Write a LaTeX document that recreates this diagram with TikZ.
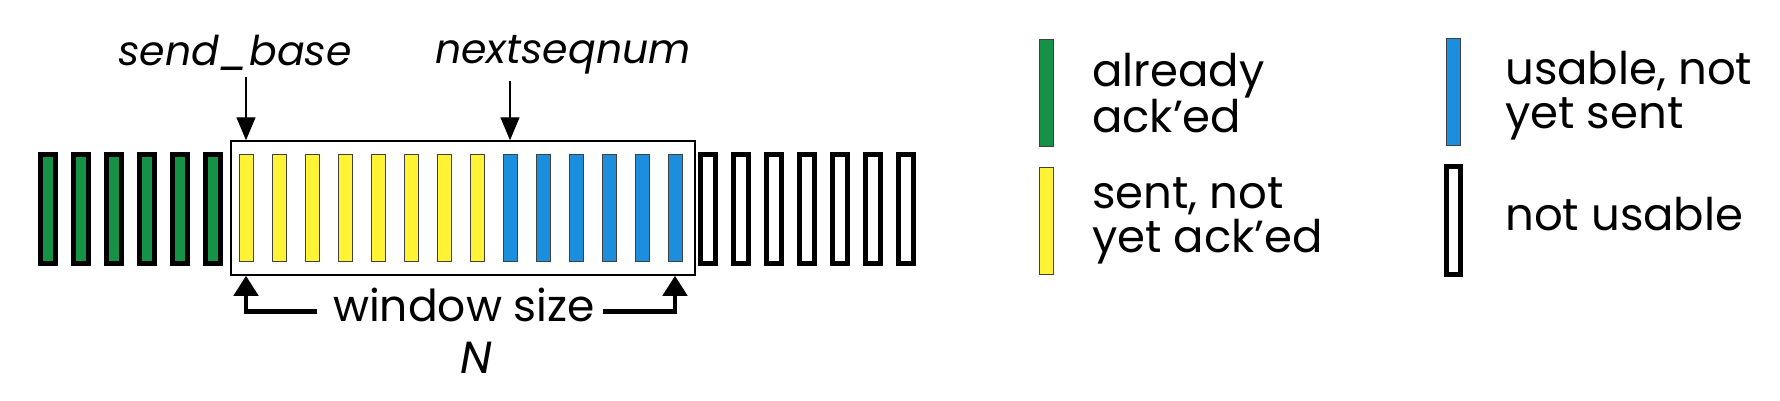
\documentclass[tikz,border=0pt]{standalone}
\usepackage{fontspec}
\setmainfont{Poppins}
\usepackage{tikz}
\usetikzlibrary{positioning, arrows.meta}
\definecolor{ackGreen}{RGB}{22,146,70}
\definecolor{sentYellow}{RGB}{255,243,51}
\definecolor{freeBlue}{RGB}{27,143,221}

\begin{document}
\begin{tikzpicture}[x=1pt, y=-1pt,
  acked/.style={draw, fill=ackGreen, line width=5pt, inner sep=0pt,
                minimum width=14.5pt, minimum height=109pt},
  sent/.style={draw=black!75, fill=sentYellow, line width=0.8pt, inner sep=0pt,
               minimum width=14pt, minimum height=107pt},
  usable/.style={sent, fill=freeBlue},
  unusable/.style={acked, fill=white},
  keybar/.style={sent, minimum width=14pt, minimum height=107pt},
  ptr/.style={-{Triangle[length=23pt, width=19pt]}, line width=1.2pt, shorten <=7pt},
  sizearrow/.style={-{Triangle[length=20pt, width=24pt]}, line width=4.5pt},
  lbl/.style={font=\fontsize{41}{49}\selectfont\itshape, inner sep=0pt, anchor=base},
  legtext/.style={font=\fontsize{45}{44}\selectfont, align=left, anchor=base west, inner sep=0pt},
]
  \useasboundingbox (0,0) rectangle (1780,400);

  \foreach \i in {0,...,5}   \node[acked]    (b\i) at (48+33*\i,209) {};
  \foreach \i in {6,...,13}  \node[sent]     (b\i) at (48+33*\i,208) {};
  \foreach \i in {14,...,19} \node[usable]   (b\i) at (48+33*\i,208) {};
  \foreach \i in {20,...,26} \node[unusable] (b\i) at (48+33*\i,209) {};

  \node[draw, line width=1.5pt, inner sep=0pt, minimum width=464pt,
        minimum height=134pt] (win) at (463,208) {};

  \node[lbl] (sb) at (235,65) {send\_base};
  \node[lbl] (ns) at (563,63) {nextseqnum};
  \draw[ptr] (b6 |- sb.south) -- (b6 |- win.north);
  \draw[ptr] (b14 |- ns.south) -- (b14 |- win.north);

  \node[font=\fontsize{44}{50}\selectfont, inner sep=0pt, anchor=base] (ws) at (464,321) {window size};
  \node[font=\fontsize{45}{50}\selectfont\itshape, inner sep=0pt, anchor=base] (n) at (476,373) {N};
  \draw[sizearrow] ([xshift=-16pt, yshift=-7pt]ws.west) -| (b6 |- win.south);
  \draw[sizearrow] ([xshift=8pt, yshift=-7pt]ws.east) -| (b19 |- win.south);

  \node[keybar, fill=ackGreen] (kg) at (1046.5,93) {};
  \node[keybar, fill=sentYellow] (ky) at (1046,221) {};
  \node[keybar, fill=freeBlue] (kb) at (1453.5,92) {};
  \node[unusable, minimum width=14pt, minimum height=108pt] (kw) at (1453,220) {};

  \node[legtext] (tg) at (1092,132) {already\\ack’ed};
  \node[legtext] (ty) at (1092,252) {sent, not\\yet ack’ed};
  \node[legtext] (tb) at (1505,128) {usable, not\\yet sent};
  \node[legtext] (tw) at (1505,230) {not usable};
\end{tikzpicture}
\end{document}
